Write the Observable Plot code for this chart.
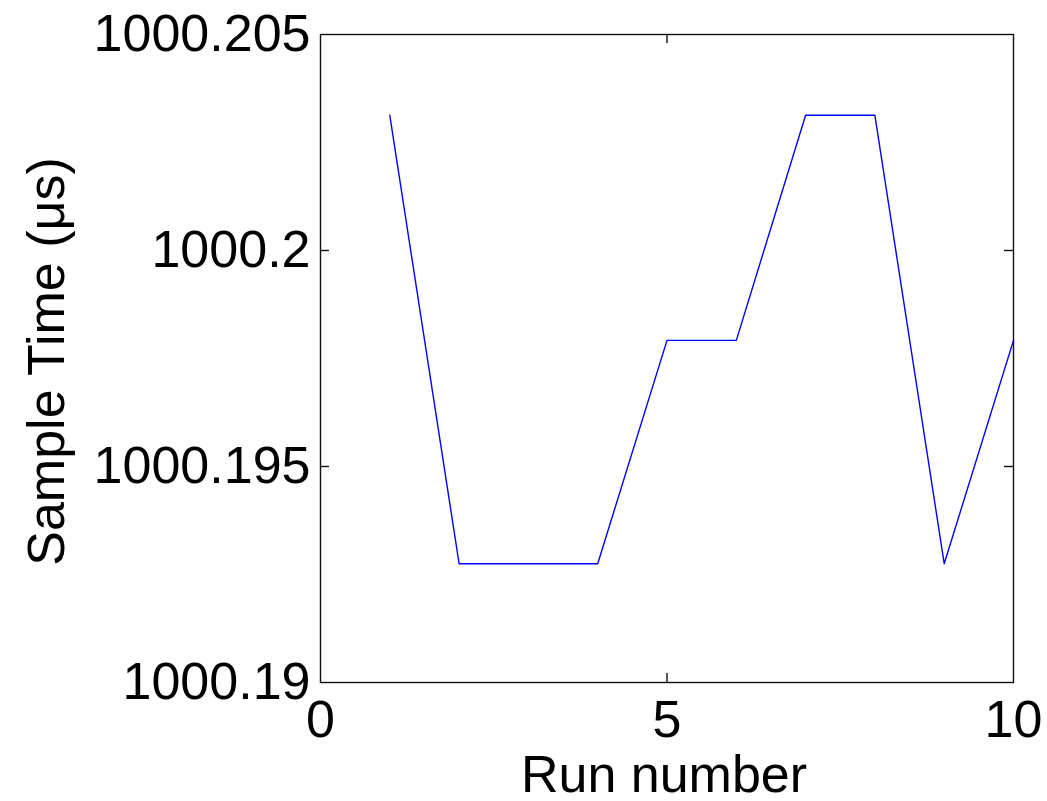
<!DOCTYPE html>
<html><head><meta charset="utf-8">
<script src="https://cdn.jsdelivr.net/npm/d3@7"></script>
<script src="https://cdn.jsdelivr.net/npm/@observablehq/plot@0.6"></script>
<style>body{margin:0;background:#fff}</style>
</head><body><div id="chart"></div>
<script>
const runs = [1, 2, 3, 4, 5, 6, 7, 8, 9, 10];
const sampleTimes = [1000.20313, 1000.19275, 1000.19275, 1000.19275, 1000.19792, 1000.19792, 1000.20313, 1000.20313, 1000.19275, 1000.19792];
const xTicks = [0, 5, 10];
const yTicks = [1000.19, 1000.195, 1000.2, 1000.205];
const xInnerTicks = [5];
const yInnerTicks = [1000.195, 1000.2];
const xLabel = "Run number";
const yLabel = "Sample Time (μs)";

const data = runs.map((r, i) => ({run: r, t: sampleTimes[i]}));
const W = 1047, H = 801, mT = 34, mL = 320, mR = 34, mB = 119;
const pw = W - mL - mR, ph = H - mT - mB, tl = 9;
const fs = 52;

const chart = Plot.plot({
  width: W, height: H,
  marginTop: mT, marginLeft: mL, marginRight: mR, marginBottom: mB,
  style: {fontFamily: "'Liberation Sans', Arial, sans-serif", fontSize: fs + "px", color: "#000", background: "#fff"},
  x: {domain: [0, 10]},
  y: {domain: [1000.19, 1000.205]},
  marks: [
    Plot.line(data, {x: "run", y: "t", stroke: "#0000ff", strokeWidth: 1.4}),
    Plot.frame({stroke: "#111", strokeWidth: 1.4}),
    Plot.tickX(xInnerTicks, {x: d => d, insetTop: ph - tl, stroke: "#111", strokeWidth: 1.4}),
    Plot.tickX(xInnerTicks, {x: d => d, insetBottom: ph - tl, stroke: "#111", strokeWidth: 1.4}),
    Plot.tickY(yInnerTicks, {y: d => d, insetRight: pw - tl, stroke: "#111", strokeWidth: 1.4}),
    Plot.tickY(yInnerTicks, {y: d => d, insetLeft: pw - tl, stroke: "#111", strokeWidth: 1.4}),
    Plot.axisX(xTicks, {tickSize: 0, tickPadding: 18, fontSize: fs, label: null, tickFormat: d => String(d)}),
    Plot.axisY(yTicks, {tickSize: 0, tickPadding: 10, fontSize: fs, label: null, tickFormat: d => String(d)}),
    Plot.text([xLabel], {text: d => d, frameAnchor: "bottom", dx: -3, dy: 109, textAnchor: "middle", lineAnchor: "bottom", fontSize: fs}),
    Plot.text([yLabel], {text: d => d, frameAnchor: "left", dx: -257, dy: 3, rotate: -90, textAnchor: "middle", lineAnchor: "bottom", fontSize: fs})
  ]
});
document.getElementById("chart").appendChild(chart);
</script>
</body></html>
